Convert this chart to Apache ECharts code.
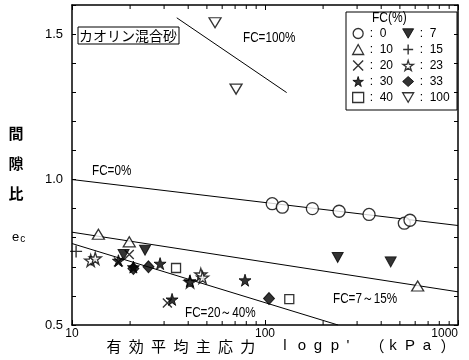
<!DOCTYPE html>
<html><head><meta charset="utf-8">
<script src="https://cdn.jsdelivr.net/npm/echarts@6/dist/echarts.min.js"></script>
<style>html,body{margin:0;padding:0;background:#fff}#c{width:469px;height:360px}</style>
</head><body><div id="c"></div>
<script>
// ---- data (p' in kPa, void ratio ec) ----
const fc0 = [[109,0.917],[123,0.905],[176,0.900],[242,0.891],[346,0.880],[527,0.850],[564,0.860]];
const fc7 = [[18.5,0.742],[23.9,0.757],[238,0.732],[448,0.717]];
const fc10 = [[13.7,0.812],[19.8,0.786],[618,0.634]];
const fc15 = [[10.5,0.753]];
const fc20 = [[17.4,0.717],[19.8,0.742],[31.2,0.576]];
const fc23 = [[12.5,0.722],[13.2,0.729],[40.9,0.648],[46.5,0.674],[47.5,0.663]];
const fc30 = [[17.4,0.721],[20.8,0.699],[28.6,0.711],[33.0,0.588],[40.8,0.651],[78.8,0.654]];
const fc33 = [[20.8,0.694],[24.9,0.700],[104.9,0.591]];
const fc40 = [[34.6,0.696],[133.6,0.589]];
const fc100 = [[55.1,1.539],[70.8,1.311]];
// fitted lines
const line0 = [[10,1.0],[1000,0.842]];
const line7to15 = [[10,0.819],[1000,0.614]];
const line20to40 = [[10,0.780],[239,0.5]];
const line100 = [[34.9,1.556],[129.5,1.299]];
const lineLabels = ['FC=0%','FC=7～15%','FC=20～40%','FC=100%'];
const legendCol1 = ['0','10','20','30','40'];
const legendCol2 = ['7','15','23','33','100'];
const xMinorTicks = [20,30,40,50,60,70,80,90,200,300,400,500,600,700,800,900];
const yLabelVals = [0.5,1.0,1.5];

const STAR = 'path://M50,0 L61,35 L98,35 L68,57 L79,91 L50,70 L21,91 L32,57 L2,35 L39,35 Z';
const PLUS = 'path://M0,50 L100,50 M50,0 L50,100';
const CROSS = 'path://M0,0 L100,100 M100,0 L0,100';
const DOWN = 'path://M0,0 L100,0 L50,86 Z';
const openStyle = {color:'#fff', borderColor:'#000', borderWidth:1.3};
const fillStyle = {color:'#000', borderColor:'#000', borderWidth:1};
const lineStyleSym = {color:'#000', borderColor:'#000', borderWidth:1.4};

function sc(name, data, symbol, size, style){
  return {type:'scatter', name, data, symbol, symbolSize:size,
    itemStyle:style, z:3, silent:true};
}
function ln(data){
  return {type:'line', data, showSymbol:false, symbol:'none', lineStyle:{color:'#000', width:1},
    silent:true, z:2};
}
const series = [
  ln(line0), ln(line7to15), ln(line20to40), ln(line100),
  sc('0', fc0, 'circle', 12, openStyle),
  sc('7', fc7, DOWN, [11,10], fillStyle),
  sc('10', fc10, 'triangle', [12,10], openStyle),
  sc('15', fc15, PLUS, 12, lineStyleSym),
  sc('20', fc20, CROSS, 9, lineStyleSym),
  sc('23', fc23, STAR, 12, openStyle),
  sc('30', fc30, STAR, 12, fillStyle),
  sc('33', fc33, 'diamond', [11,12], fillStyle),
  sc('40', fc40, 'rect', 9, openStyle),
  sc('100', fc100, DOWN, [12,10], openStyle),
  {type:'custom', data:xMinorTicks.map(v=>[v,0.5]), silent:true, z:4,
   renderItem:function(params, api){
     const v = api.value(0);
     const b = api.coord([v,0.5]);
     const t = api.coord([v,1.6]);
     return {type:'group', children:[
       {type:'line', shape:{x1:b[0],y1:b[1],x2:b[0],y2:b[1]-4}, style:{stroke:'#000',lineWidth:1}},
       {type:'line', shape:{x1:t[0],y1:t[1],x2:t[0],y2:t[1]+4}, style:{stroke:'#000',lineWidth:1}}
     ]};
   }}
];

function legendItem(name){
  const s = series.find(x=>x.name===name);
  return {name, icon:s.symbol, itemStyle:Object.assign({}, s.itemStyle)};
}
const TF = 'Liberation Sans, Arial';
const legendCommon = {orient:'vertical', itemWidth:11, itemHeight:10, itemGap:3, padding:0,
  textStyle:{fontFamily:TF, fontSize:12, color:'#000', lineHeight:13, padding:[0,0,0,1]},
  formatter:n=>':  '+n, selectedMode:false, inactiveColor:'#000'};

const graphics = [];
// legend box
graphics.push({type:'rect', shape:{x:346,y:12,width:111,height:98}, style:{fill:'none',stroke:'#000',lineWidth:1}, z:10});
graphics.push({type:'text', x:372, y:18, scaleX:0.8, style:{text:'FC(%)', font:'15px '+TF, fill:'#000', textAlign:'left', textVerticalAlign:'middle'}, z:10});
// title box
graphics.push({type:'rect', shape:{x:78,y:27,width:101,height:17}, style:{fill:'#fff',stroke:'#000',lineWidth:1}, z:10});
graphics.push({type:'text', x:79, y:36, style:{text:'カオリン混合砂', font:'14px "Noto Sans CJK JP"', fill:'#000', textAlign:'left', textVerticalAlign:'middle'}, z:11});
// line labels
const lblPos = [[92,171],[333,299],[185,313],[243,38]];
lineLabels.forEach((t,i)=>{
  graphics.push({type:'text', x:lblPos[i][0], y:lblPos[i][1], scaleX:0.78,
    style:{text:t, font:'15px '+TF, fill:'#000', textAlign:'left', textVerticalAlign:'middle'}, z:10});
});
// y-axis title
const yTitle = ['間','隙','比'];
yTitle.forEach((c,i)=>{
  graphics.push({type:'text', x:16, y:133+i*30, style:{text:c, font:'bold 15px "Noto Sans CJK JP"', fill:'#000', textAlign:'center', textVerticalAlign:'middle'}});
});
graphics.push({type:'text', x:12, y:237, style:{text:'{a|e}{b|c}', rich:{a:{fontSize:13,fontFamily:TF,fill:'#000'}, b:{fontSize:10,fontFamily:TF,fill:'#000',padding:[4,0,0,1]}}, textAlign:'left', textVerticalAlign:'middle'}});
// x-axis title
const xTitleK = ['有','効','平','均','主','応','力'];
xTitleK.forEach((c,i)=>{
  graphics.push({type:'text', x:114+i*22.3, y:346, style:{text:c, font:'15px "Noto Sans CJK JP"', fill:'#000', textAlign:'center', textVerticalAlign:'middle'}});
});
const xTitleL = [['l',285],['o',302],['g',318],['p',335],["'",348],['（',377],['k',393],['P',410],['a',427],['）',448]];
xTitleL.forEach(([c,x])=>{
  graphics.push({type:'text', x:x, y:346, style:{text:c, font:(c==='（'||c==='）'?'15px "Noto Sans CJK JP"':'15px Liberation Sans'), fill:'#000', textAlign:'center', textVerticalAlign:'middle'}});
});

const axLine = {show:true, lineStyle:{color:'#000', width:1.5}};
const option = {
  animation:false,
  backgroundColor:'#fff',
  grid:{left:72, right:11, top:5, bottom:35, containLabel:false},
  xAxis:[
    {type:'log', logBase:10, min:10, max:1000, position:'bottom', axisLine:axLine,
     axisTick:{inside:true, length:5, lineStyle:{color:'#000'}}, splitLine:{show:false},
     axisLabel:{fontFamily:TF, fontSize:12, color:'#000', margin:3, alignMaxLabel:'right', formatter:v=>String(Math.round(v))}},
    {type:'log', logBase:10, min:10, max:1000, position:'top', axisLine:axLine,
     axisTick:{inside:true, length:5, lineStyle:{color:'#000'}}, splitLine:{show:false}, axisLabel:{show:false}}
  ],
  yAxis:[
    {type:'value', min:0.5, max:1.6, interval:0.1, position:'left', axisLine:axLine,
     axisTick:{inside:true, length:4, lineStyle:{color:'#000'}}, splitLine:{show:false},
     axisLabel:{fontFamily:TF, fontSize:13, color:'#000', margin:9,
       formatter:v=>yLabelVals.some(t=>Math.abs(t-v)<1e-6)?v.toFixed(1):''}},
    {type:'value', min:0.5, max:1.6, interval:0.1, position:'right', axisLine:axLine,
     axisTick:{inside:true, length:4, lineStyle:{color:'#000'}}, splitLine:{show:false}, axisLabel:{show:false}}
  ],
  legend:[
    Object.assign({left:352, top:27, data:legendCol1.map(legendItem)}, legendCommon),
    Object.assign({left:402, top:27, data:legendCol2.map(legendItem)}, legendCommon)
  ],
  graphic:graphics,
  series
};
const chart = echarts.init(document.getElementById('c'), null, {renderer:'canvas'});
chart.setOption(option);
</script></body></html>
